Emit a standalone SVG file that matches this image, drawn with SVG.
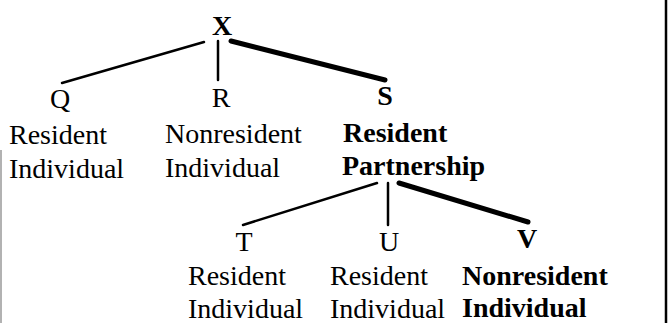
<svg xmlns="http://www.w3.org/2000/svg" width="668" height="323" viewBox="0 0 668 323">
<style>
text{font-family:"Liberation Serif","Times New Roman",serif;font-size:28px;fill:#000}
.b{font-weight:bold}
.m{text-anchor:middle}
.thin{stroke:#000;stroke-width:2.5;stroke-linecap:round;fill:none}
.thick{stroke:#000;stroke-width:5;stroke-linecap:round;fill:none}
</style>
<rect width="668" height="323" fill="#fff"/>
<line x1="666" y1="0" x2="666" y2="323" stroke="#000" stroke-width="2.5"/>
<line x1="1" y1="150" x2="1" y2="323" stroke="#999" stroke-width="1.5"/>
<g id="connectors">
<line class="thin" x1="204" y1="42" x2="62" y2="83"/>
<line class="thin" x1="218" y1="41" x2="218" y2="80"/>
<line class="thick" x1="231" y1="41" x2="385" y2="80"/>
<line class="thin" x1="377" y1="183" x2="243" y2="225"/>
<line class="thin" x1="388" y1="183" x2="388" y2="225"/>
<line class="thick" x1="399" y1="183" x2="528" y2="222"/>
</g>
<g id="X"><text class="b m" x="222" y="35">X</text></g>
<g id="Q"><text class="m" x="60" y="108">Q</text><text x="9" y="144">Resident</text><text x="9" y="178">Individual</text></g>
<g id="R"><text class="m" x="221" y="107">R</text><text x="165" y="143">Nonresident</text><text x="165" y="177">Individual</text></g>
<g id="S"><text class="b m" x="385" y="105">S</text><text class="b" x="343" y="142">Resident</text><text class="b" x="342" y="175">Partnership</text></g>
<g id="T"><text class="m" x="244" y="251">T</text><text x="188" y="285">Resident</text><text x="188" y="318">Individual</text></g>
<g id="U"><text class="m" x="389" y="251">U</text><text x="330" y="285">Resident</text><text x="330" y="318">Individual</text></g>
<g id="V"><text class="b m" x="527" y="248">V</text><text class="b" x="462" y="285">Nonresident</text><text class="b" x="462" y="317">Individual</text></g>
</svg>
